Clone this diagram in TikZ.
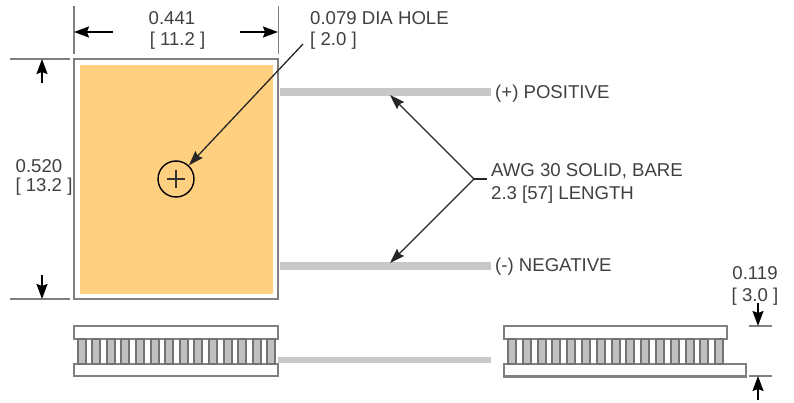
\documentclass[tikz,border=0pt]{standalone}
\usepackage{fontspec}
\setmainfont{Liberation Sans}
\usetikzlibrary{arrows.meta}
\definecolor{dimgray}{HTML}{808080}
\definecolor{wiregray}{HTML}{C8C8C8}
\definecolor{labelgray}{HTML}{404040}
\definecolor{pelletgray}{HTML}{C0C0C0}
\definecolor{padorange}{HTML}{FFD07F}
\tikzset{
	extline/.style={line width=1.8pt, color=dimgray},
	platebox/.style={line width=2.2pt, color=dimgray, fill=white},
	pellet/.style={line width=2pt, draw=black!55, fill=pelletgray},
	wire/.style={line width=7.5pt, color=wiregray},
	dimarrow/.style={line width=1.8pt, black, -{Stealth[length=15pt,width=11pt,inset=2pt]}},
	leader/.style={line width=1.3pt, black!85, -{Stealth[length=15pt,width=10pt,inset=2pt]}},
	dimtext/.style={font=\fontsize{18.6}{22}\selectfont, text=labelgray, inner sep=0pt},
	lefttext/.style={dimtext, anchor=west}
}

\begin{document}
\begin{tikzpicture}[x=1pt, y=-1pt]
	%%%%% START %%%%%
	\useasboundingbox (0, 0) rectangle (794, 403);

	% top view
	\draw[line width=2.2pt, color=dimgray, fill=white] (74, 59) rectangle (278, 299);
	\fill[padorange] (80, 65) rectangle (273, 294);

	\draw[wire] (280, 92) -- (491, 92);
	\draw[wire] (280, 266) -- (491, 266);

	% dimensions of the top view
	\draw[extline] (74, 6) -- (74, 54);
	\draw[extline] (278.5, 6) -- (278.5, 54);
	\draw[extline] (10, 59) -- (70, 59);
	\draw[extline] (10, 299) -- (70, 299);

	\coordinate (widthL) at (74, 32);
	\coordinate (widthR) at (278, 32);
	\coordinate (heightT) at (42, 59);
	\coordinate (heightB) at (42, 299);
	\draw[dimarrow] (113, 32) -- (widthL);
	\draw[dimarrow] (240, 32) -- (widthR);
	\draw[dimarrow] (42, 83) -- (heightT);
	\draw[dimarrow] (42, 275) -- (heightB);

	\node[dimtext] (width) at (172, 18.5) {0.441};
	\node[dimtext] (widthmm) at (177.5, 40.5) {[ 11.2 ]};
	\node[dimtext] (height) at (39, 166.5) {0.520};
	\node[dimtext] (heightmm) at (44, 187) {[ 13.2 ]};

	% hole
	\node[circle, draw=black, line width=1.4pt, minimum size=36pt, inner sep=0pt] (hole) at (176, 179) {};
	\draw[line width=1.3pt, black!80] (167, 179) -- (185, 179);
	\draw[line width=1.3pt, black!80] (176, 170) -- (176, 188);

	\node[lefttext] (holetext) at (310, 18.5) {0.079 DIA HOLE};
	\node[lefttext] (holemm) at (310, 40.5) {[ 2.0 ]};
	\coordinate (holestart) at (303, 44);
	\draw[leader] (holestart) -- (hole);

	% wires
	\node[lefttext] (positive) at (495, 93.5) {(+) POSITIVE};
	\node[lefttext] (negative) at (495, 266.5) {(-) NEGATIVE};
	\node[lefttext] (awg) at (491, 171) {AWG 30 SOLID, BARE};
	\node[lefttext] (length) at (491, 194.5) {2.3 [57] LENGTH};

	\coordinate (fork) at (474, 179);
	\coordinate (forkend) at (487, 179);
	\coordinate (wirepos) at (390, 95);
	\coordinate (wireneg) at (390, 263);
	\draw[line width=1.3pt, black!85] (fork) -- (forkend);
	\draw[leader] (fork) -- (wirepos);
	\draw[leader] (fork) -- (wireneg);

	% side view, left
	\draw[wire, line width=6.5pt] (278, 360) -- (491, 360);
	\draw[platebox] (74, 326) rectangle (278, 339);
	\draw[platebox] (74, 364) rectangle (278, 376);
	\foreach \i in {0,...,13}
		\draw[pellet] ({77.5+14.6*\i}, 338.5) rectangle ({85.5+14.6*\i}, 364);

	% side view, right
	\draw[platebox] (504, 326) rectangle (727, 339);
	\draw[platebox] (504, 364) rectangle (746, 376.5);
	\foreach \i in {0,...,14}
		\draw[pellet] ({508+14.8*\i}, 338.5) rectangle ({516+14.8*\i}, 364);

	% thickness
	\draw[extline] (749, 326) -- (772, 326);
	\draw[extline] (749, 376) -- (772, 376);
	\coordinate (thickT) at (758, 326);
	\coordinate (thickB) at (758, 376);
	\draw[dimarrow] (758, 303) -- (thickT);
	\draw[dimarrow] (758, 400) -- (thickB);
	\node[dimtext] (thick) at (755, 273) {0.119};
	\node[dimtext] (thickmm) at (755, 296.5) {[ 3.0 ]};
	%%%%% END %%%%%
\end{tikzpicture}
\end{document}
